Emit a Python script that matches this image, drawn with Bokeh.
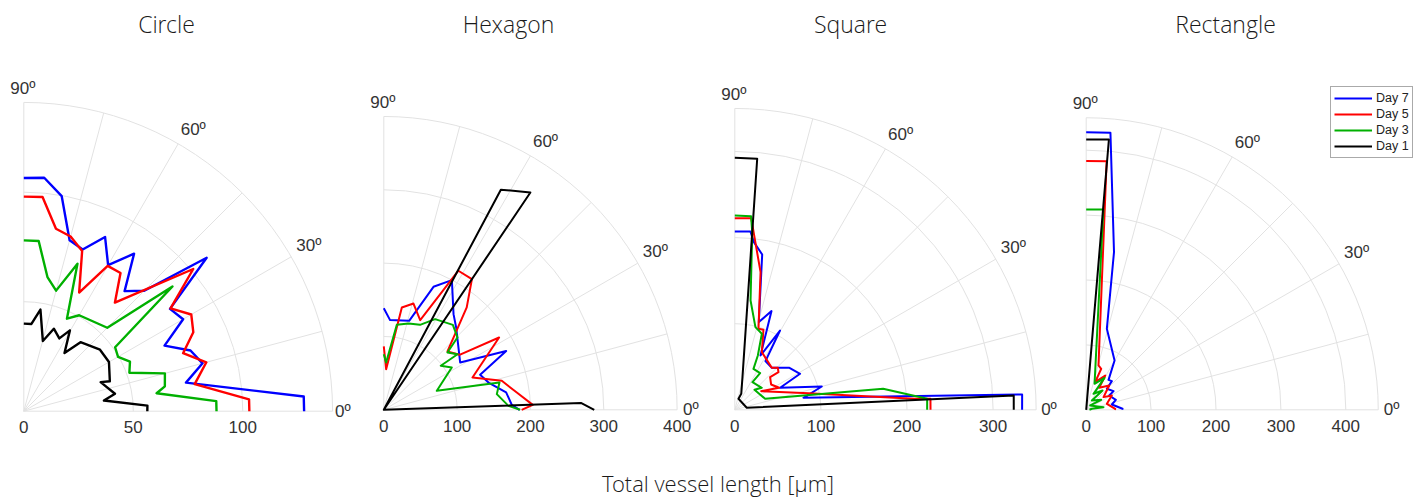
import numpy as np
from bokeh.plotting import figure
from bokeh.layouts import column, row
from bokeh.models import Range1d, Legend, LegendItem
from bokeh.core.properties import value
from bokeh.embed import file_html
from bokeh.resources import INLINE

# ---------------- data (angle in degrees, total vessel length in um) ----------------
series_labels = ["Day 7", "Day 5", "Day 3", "Day 1"]
panel_titles = ["Circle", "Hexagon", "Square", "Rectangle"]
axis_label = "Total vessel length [\u00b5m]"
angle_ticks = [0, 30, 60, 90]
angle_tick_labels = ["0\u00ba", "30\u00ba", "60\u00ba", "90\u00ba"]

circle_day7_theta = [90, 85, 80, 75, 70, 65, 60, 55, 50, 45, 40, 35, 30, 25, 20, 15, 10, 3, 0]
circle_day7_r = [106.5, 107, 99.7, 80.8, 78.6, 87.8, 77, 87.8, 71.6, 77.8, 109, 81.5, 84, 70.9, 81, 84.5, 75.2, 128, 128]
circle_day5_theta = [90, 85, 80, 75, 70, 65, 60, 55, 50, 40, 35, 30, 25, 20, 15, 9, 3, 0]
circle_day5_r = [98, 98.2, 84.6, 82.6, 77.9, 59.8, 76.6, 77, 64.7, 101, 81.8, 88.3, 85.4, 77.4, 86.3, 79, 103, 103]
circle_day3_theta = [90, 85, 80, 75, 70, 65, 60, 45, 40, 35, 30, 25, 20, 15, 10, 7.7, 3, 0]
circle_day3_r = [78, 78, 62.2, 57, 71.7, 46.6, 50.6, 53.9, 88.6, 50.9, 49.7, 53.5, 51.3, 66.7, 65.4, 61.2, 88, 88]
circle_day1_theta = [90, 85, 80.7, 74.8, 70, 64, 60.3, 55, 50.6, 38.9, 30, 19.2, 20.7, 10.8, 7.6, 2.6, 0]
circle_day1_r = [40, 40, 47, 33.2, 40.1, 37, 42.5, 32.4, 40.8, 44.7, 44.9, 41.6, 37.5, 42.4, 36.9, 56.5, 56.4]

hexagon_day7_theta = [90, 86, 74.1, 68, 62.3, 53.9, 48.7, 31.8, 25.7, 20, 14.6, 8.1, 2.2, 0]
hexagon_day7_r = [138.6, 122.6, 126.2, 180.9, 199.7, 161.4, 149.5, 122.5, 185.2, 139.8, 147.5, 168.5, 174.7, 185]
hexagon_day5_theta = [90, 86.7, 80, 74.4, 67.9, 61.8, 56, 51, 42.5, 36, 32.1, 20, 13.8, 7.4, 1.9, 0]
hexagon_day5_r = [86.4, 55.5, 141.7, 150.5, 131.9, 215.2, 214.8, 179.7, 117.8, 127.6, 185.6, 128.7, 165.7, 182.9, 203.3, 188]
hexagon_day3_theta = [90, 87.2, 81.3, 74, 66.9, 60.5, 50.9, 44.5, 42, 37, 37.7, 31.9, 19.7, 13.3, 7.9, 1.8, 0]
hexagon_day3_r = [75.9, 64.6, 117.3, 122.4, 126, 142.1, 149.3, 140.8, 116.8, 125.9, 98.2, 109.2, 76.8, 162.1, 155.6, 170.1, 186]
hexagon_day1_theta = [90, 62, 56, 50, 2, 0]
hexagon_day1_r = [0, 340, 357.5, 0, 269, 287]

square_day7_theta = [90, 85, 83.5, 80, 74.7, 69.6, 64.7, 60.3, 57.8, 48.6, 37.5, 28.9, 25.9, 15, 9.9, 3.05, 0]
square_day7_r = [207.1, 208, 196, 183.2, 105.6, 122.3, 69.8, 106, 66.8, 65, 80, 86.6, 58.5, 104.6, 81, 334.2, 333.7]
square_day5_theta = [90, 85.1, 83.8, 79.4, 73.7, 70.3, 64.9, 48.6, 44.3, 40.8, 42.8, 34.9, 26.4, 35.3, 12.7, 3.5, 3.2, 0]
square_day5_r = [222.6, 223.4, 205.6, 162.6, 98, 98.7, 74, 65, 69.8, 67, 55.9, 51.4, 57.5, 37.5, 87.7, 208.3, 227.6, 227.3]
square_day3_theta = [90, 85.2, 84.4, 81.8, 76, 70.4, 67, 65.5, 55.4, 57.4, 39.2, 45.5, 19.9, 8.1, 3.3, 0]
square_day3_r = [225.7, 225.7, 207.3, 128.3, 99, 93.7, 68.5, 52.3, 51.8, 38.1, 40.4, 32.6, 37.5, 174, 223.8, 223.4]
square_day1_theta = [90, 84.9, 76.8, 68, 71.6, 9.5, 2.94, 0]
square_day1_r = [292.7, 292.7, 39, 20, 13.5, 14.1, 324.4, 324]

rectangle_day7_theta = [90, 85, 80, 75.7, 60.1, 53.3, 48.2, 45.5, 34.3, 31.9, 18.6, 11.7, 1.6, 0]
rectangle_day7_r = [427.8, 428.5, 246.7, 128.8, 87.7, 57.6, 59.3, 45.4, 51, 41.8, 48.2, 40.4, 56, 55.5]
rectangle_day5_theta = [90, 85.3, 74.5, 69.9, 72, 61, 59.4, 46.6, 36.2, 29.2, 16.2, 2, 0]
rectangle_day5_r = [383.2, 384.4, 70.9, 67.3, 44.8, 60.5, 39.4, 51.6, 33.1, 45.3, 33.2, 44.7, 44]
rectangle_day3_theta = [90, 85.1, 72.2, 60.2, 65.4, 49.8, 58.7, 33.7, 47, 8.7, 10, 0]
rectangle_day3_r = [308.7, 309.8, 42.1, 56.8, 27.1, 39, 16.8, 27.8, 9.1, 27, 8.9, 5]
rectangle_day1_theta = [90, 85.2, 80, 0]
rectangle_day1_r = [416.5, 418, 0, 0]

panel_series = [
    [(circle_day7_theta, circle_day7_r), (circle_day5_theta, circle_day5_r),
     (circle_day3_theta, circle_day3_r), (circle_day1_theta, circle_day1_r)],
    [(hexagon_day7_theta, hexagon_day7_r), (hexagon_day5_theta, hexagon_day5_r),
     (hexagon_day3_theta, hexagon_day3_r), (hexagon_day1_theta, hexagon_day1_r)],
    [(square_day7_theta, square_day7_r), (square_day5_theta, square_day5_r),
     (square_day3_theta, square_day3_r), (square_day1_theta, square_day1_r)],
    [(rectangle_day7_theta, rectangle_day7_r), (rectangle_day5_theta, rectangle_day5_r),
     (rectangle_day3_theta, rectangle_day3_r), (rectangle_day1_theta, rectangle_day1_r)],
]

r_max = [141, 400, 350, 450]
ring_values = [[50, 100], [100, 200, 300], [100, 200, 300], [100, 200, 300, 400]]
radial_ticks = [[0, 50, 100], [0, 100, 200, 300, 400], [0, 100, 200, 300], [0, 100, 200, 300, 400]]
spoke_angles = [0, 15, 30, 45, 60, 75, 90]

# ---------------- layout / style ----------------
ROW_H = 448
BOTTOM_H = 51
panel_width = [362, 350, 354, 347]
origin_px = [(23.3, 410.7), (21.3, 409.3), (22.3, 409.3), (19.7, 409.3)]   # polar origin inside each figure
px_per_unit = [2.19, 0.7333, 0.861, 0.649]
line_width = [2.4, 2.0, 2.0, 2.0]
title_dx = [142.7, 124.7, 115.7, 139.3]       # title centre, px right of polar origin
title_dy = [-387.2, -385.8, -385.8, -385.8]   # title centre, px below polar origin
zero_label_dx = [2.5, 6, 5, 5.5]
colors = ["#0000ff", "#ff0000", "#00b000", "#000000"]
GRID = "#e2e2e2"
TXT = "#333333"
TICK_FONT = "Liberation Sans"
TICK_SIZE = "17px"
TITLE_FONT = "Open Sans Light, Lato Light, Open Sans"


def polar_xy(theta_deg, r):
    t = np.radians(np.asarray(theta_deg, dtype=float))
    r = np.asarray(r, dtype=float)
    return r * np.cos(t), r * np.sin(t)


def label(p, x, y, txt, align, dx, dy, font=TICK_FONT, size=TICK_SIZE, color=TXT):
    p.text(x=x, y=y, text=txt, text_align=align, text_baseline="middle",
           x_offset=dx, y_offset=dy, text_font=value(font), text_font_size=size, text_color=color)


figs = []
legend_renderers = None
for i in range(4):
    W = panel_width[i]
    ox, oy = origin_px[i]
    s = px_per_unit[i]
    p = figure(width=W, height=ROW_H, output_backend="svg", toolbar_location=None,
               x_range=Range1d(-ox / s, (W - ox) / s),
               y_range=Range1d(-(ROW_H - oy) / s, oy / s),
               x_axis_type=None, y_axis_type=None, min_border=0)
    p.outline_line_color = None
    p.background_fill_color = "white"
    p.border_fill_color = "white"

    rm = r_max[i]
    # polar grid
    sx, sy = polar_xy(spoke_angles, [rm] * len(spoke_angles))
    p.segment(x0=[0] * len(sx), y0=[0] * len(sx), x1=sx, y1=sy, line_color=GRID, line_width=1)
    rings = ring_values[i] + [rm]
    p.arc(x=[0] * len(rings), y=[0] * len(rings), radius=rings, start_angle=0, end_angle=np.pi / 2,
          line_color=GRID, line_width=1)

    # data
    rends = []
    for (th, rr), c in zip(panel_series[i], colors):
        x, y = polar_xy(th, rr)
        rends.append(p.line(x, y, line_color=c, line_width=line_width[i], line_join="round"))
    if i == 3:
        legend_renderers = rends

    # radial tick labels
    tk = radial_ticks[i]
    label(p, tk, [0] * len(tk), [str(t) for t in tk], "center", 0, 16)

    # angle labels
    ax, ay = polar_xy(angle_ticks, [rm] * 4)
    label(p, [ax[0]], [ay[0]], [angle_tick_labels[0]], "left", zero_label_dx[i], 0)
    label(p, [ax[1]], [ay[1]], [angle_tick_labels[1]], "left", 5, -11.5)
    label(p, [ax[2]], [ay[2]], [angle_tick_labels[2]], "left", 2.5, -14.5)
    label(p, [ax[3]], [ay[3]], [angle_tick_labels[3]], "center", -1, -14)

    # panel title
    label(p, [0], [0], [panel_titles[i]], "center", title_dx[i], title_dy[i],
          font=TITLE_FONT, size="23px", color="#1a1a1a")
    figs.append(p)

# legend in the last panel
p4 = figs[3]
legend = Legend(items=[LegendItem(label=lab, renderers=[r]) for lab, r in zip(series_labels, legend_renderers)],
                location=(264, ROW_H - 158))
legend.glyph_width = 38
legend.glyph_height = 16
legend.label_height = 16
legend.label_standoff = 4
legend.spacing = 0
legend.padding = 3
legend.margin = 0
legend.label_text_font = "Liberation Sans"
legend.label_text_font_size = "12.5px"
legend.label_text_color = "#222222"
legend.border_line_color = "#555555"
legend.border_line_width = 1
legend.background_fill_color = "white"
legend.background_fill_alpha = 1.0
p4.add_layout(legend)

# shared axis label
pb = figure(width=sum(panel_width), height=BOTTOM_H, output_backend="svg", toolbar_location=None,
            x_range=Range1d(0, 1), y_range=Range1d(0, BOTTOM_H), x_axis_type=None, y_axis_type=None,
            min_border=0)
pb.outline_line_color = None
label(pb, [0.5], [17], [axis_label], "center", 11, 0, font=TITLE_FONT, size="22px", color="#1a1a1a")

layout = column(row(*figs, spacing=0), pb, spacing=0)
open("out.html", "w").write(file_html(layout, INLINE))
